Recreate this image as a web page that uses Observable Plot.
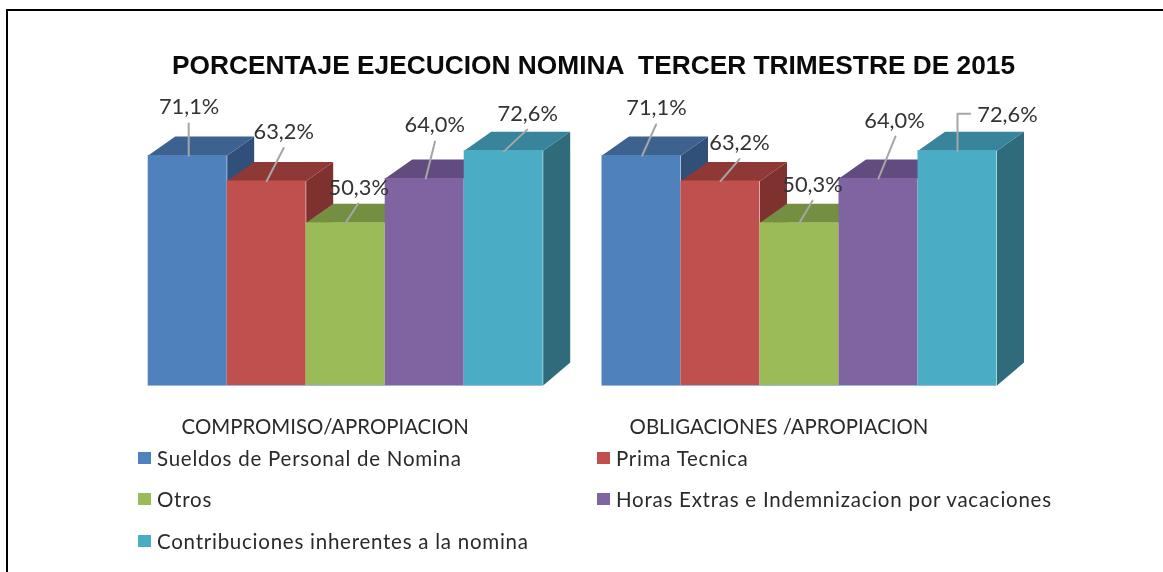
<!DOCTYPE html>
<html lang="es">
<head>
<meta charset="utf-8">
<script src="https://cdn.jsdelivr.net/npm/d3@7"></script>
<script src="https://cdn.jsdelivr.net/npm/@observablehq/plot@0.6"></script>
<style>
  html, body { margin: 0; background: #fff; overflow: hidden; }
  #page { position: relative; width: 1163px; height: 572px; overflow: hidden; filter: blur(0.45px); }
  #frame { position: absolute; left: 6px; top: 9px; right: -4px; bottom: -4px; border-left: 2px solid #000; border-top: 2px solid #000; }
  #title { position: absolute; left: 172px; top: 50px; white-space: pre; font: bold 26.3px "Liberation Sans", Arial, sans-serif; line-height: 30px; color: #0a0a0a; }
  #chart { position: absolute; left: 0; top: 90px; }
  .leg { position: absolute; white-space: pre; font: 20.5px Lato, sans-serif; line-height: 24px; color: #2a2a2a; letter-spacing: .75px; }
  .sw { position: absolute; width: 13px; height: 12px; }
</style>
</head>
<body>
<div id="page">
  <div id="frame"></div>
  <div id="title"></div>
  <div id="chart"></div>
</div>
<script>
const titleText = "PORCENTAJE EJECUCION NOMINA  TERCER TRIMESTRE DE 2015";
const groups = ["COMPROMISO/APROPIACION", "OBLIGACIONES /APROPIACION"];
const series = ["Sueldos de Personal de Nomina", "Prima Tecnica", "Otros", "Horas Extras e Indemnizacion por vacaciones", "Contribuciones inherentes a la nomina"];
const compromiso = [71.1, 63.2, 50.3, 64.0, 72.6];
const obligaciones = [71.1, 63.2, 50.3, 64.0, 72.6];

const frontColors = ["#4F81BD", "#C0504D", "#9BBB59", "#8064A2", "#4BACC6"];
const topColors = ["#3D628F", "#8F3937", "#748E42", "#624B7E", "#38849A"];
const sideColors = ["#30507A", "#7E312F", "#627A36", "#523D6B", "#306B7C"];

// layout (pixels)
const slotPx = 79.0, unitPx = 3.235, depthX = 27, depthTop = 19, depthBase = 23;
const plotH = 350, baseY = 295;
const panelStart = [147.7, 601.5];
// leader lines and labels: pixel offsets from the centre of each bar's top edge
const leaders = [
  [
    {path: [[1, 0], [1, -32]], label: [1.4, -48]},
    {path: [[0, 0], [17, -33]], label: [17, -49]},
    {path: [[0, 0], [12.6, -19.3]], label: [13, -35]},
    {path: [[1, 0], [10.3, -37]], label: [10, -53]},
    {path: [[0, 1], [23.5, -21]], label: [24, -37]}
  ],
  [
    {path: [[0.7, 0], [14.6, -31]], label: [15, -47]},
    {path: [[0, 0], [19, -22]], label: [19, -38]},
    {path: [[0, 0], [13, -22]], label: [13, -38]},
    {path: [[0, 0], [17, -42]], label: [16, -57]},
    {path: [[0, 0], [0, -37], [12.6, -37]], label: [50, -36]}
  ]
];

const labelFont = "Lato, sans-serif";
const fmt = v => v.toFixed(1).replace(".", ",") + "%";
const dxU = depthX / slotPx, dyTop = depthTop / unitPx, dyBase = depthBase / unitPx;
const marks = [];

[compromiso, obligaciones].forEach((values, p) => {
  const start = panelStart[p] / slotPx;
  values.forEach((v, i) => {
    const x1 = start + i, x2 = x1 + 1;
    const side = [[x2, 0], [x2 + dxU, dyBase], [x2 + dxU, v + dyTop], [x2, v]];
    const top = [[x1, v], [x1 + dxU, v + dyTop], [x2 + dxU, v + dyTop], [x2, v]];
    marks.push(Plot.line(side, {x: "0", y: "1", fill: sideColors[i], stroke: "none"}));
    marks.push(Plot.line(top, {x: "0", y: "1", fill: topColors[i], stroke: "none"}));
    marks.push(Plot.rect([{x1, x2, v}], {x1: "x1", x2: "x2", y1: 0, y2: "v", fill: frontColors[i], inset: 0}));
  });
  // baseline highlight of the front faces
  marks.push(Plot.ruleY([0], {x1: start, x2: start + values.length, stroke: "#9DB8DA", strokeWidth: 1}));
  // group label under the bars
  marks.push(Plot.text([groups[p]], {
    x: start + values.length / 2, y: 0, text: d => d, dx: -20.5, dy: 42,
    fontFamily: labelFont, fontSize: 20.4, fill: "#2a2a2a", textAnchor: "middle"
  }));
});

// leader lines go on top of all bars, then the value labels
[compromiso, obligaciones].forEach((values, p) => {
  const start = panelStart[p] / slotPx;
  values.forEach((v, i) => {
    const cx = start + i + 0.5;
    const pts = leaders[p][i].path.map(([dx, dy]) => ({x: cx + dx / slotPx, y: v - dy / unitPx}));
    marks.push(Plot.line(pts, {x: "x", y: "y", stroke: "#A6A6A6", strokeWidth: 2}));
  });
});
[compromiso, obligaciones].forEach((values, p) => {
  const start = panelStart[p] / slotPx;
  values.forEach((v, i) => {
    const [lx, ly] = leaders[p][i].label;
    marks.push(Plot.text([v], {
      x: start + i + 0.5 + lx / slotPx, y: v - ly / unitPx, text: fmt,
      fontFamily: labelFont, fontSize: 21.8, fill: "#333", textAnchor: "middle", lineAnchor: "middle"
    }));
  });
});

const chart = Plot.plot({
  width: 1163,
  height: plotH,
  margin: 0,
  style: {background: "transparent"},
  x: {type: "linear", domain: [0, 1163 / slotPx], range: [0, 1163], axis: null},
  y: {type: "linear", domain: [0, baseY / unitPx], range: [baseY, 0], axis: null, clamp: false},
  marks
});
chart.style.overflow = "visible";
document.getElementById("chart").append(chart);
document.getElementById("title").textContent = titleText;

// legend, below the plot
const page = document.getElementById("page");
const legendSlots = [[137.5, 458], [596.5, 458], [137.5, 499], [596.5, 499], [137.5, 541]];
series.forEach((name, i) => {
  const [lx, ly] = legendSlots[i];
  const sw = document.createElement("div");
  sw.className = "sw";
  sw.style.cssText = `left:${lx}px;top:${ly - 6}px;background:${frontColors[i]}`;
  const t = document.createElement("div");
  t.className = "leg";
  t.textContent = name;
  t.style.left = (lx + 19.5) + "px";
  t.style.top = (ly - 12) + "px";
  page.append(sw, t);
});
</script>
</body>
</html>
